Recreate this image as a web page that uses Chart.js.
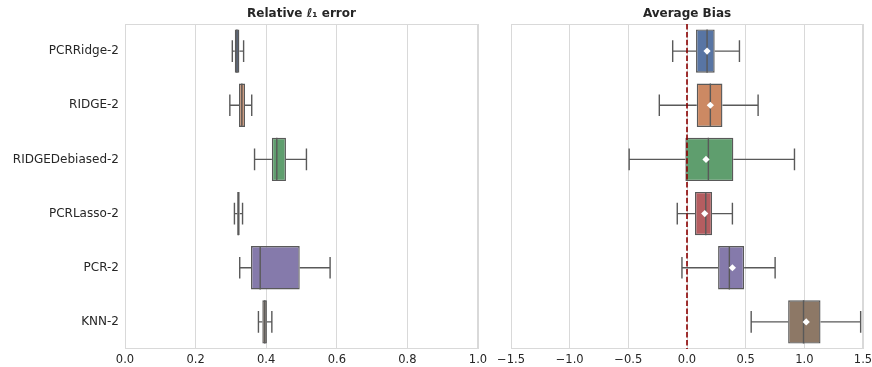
<!DOCTYPE html>
<html>
<head>
<meta charset="utf-8">
<script src="https://cdn.jsdelivr.net/npm/chart.js"></script>
<style>
  body { margin: 0; background: #fff; }
  #wrap { position: relative; width: 872px; height: 367px; }
  canvas { position: absolute; top: 0; }
</style>
</head>
<body>
<div id="wrap">
  <canvas id="errChart" width="490" height="367" style="left:0"></canvas>
  <canvas id="biasChart" width="382" height="367" style="left:490px"></canvas>
</div>
<script>
var models = ['PCRRidge-2', 'RIDGE-2', 'RIDGEDebiased-2', 'PCRLasso-2', 'PCR-2', 'KNN-2'];
var boxColors = ['#5875a4', '#cc8963', '#5f9e6e', '#b55d60', '#857aab', '#8d7866'];

// relative l1 error (left panel)
var errLow  = [0.304, 0.297, 0.367, 0.310, 0.325, 0.378];
var errQ1   = [0.311, 0.323, 0.416, 0.318, 0.357, 0.389];
var errMed  = [0.317, 0.331, 0.430, 0.321, 0.383, 0.396];
var errQ3   = [0.324, 0.340, 0.456, 0.325, 0.495, 0.402];
var errHigh = [0.336, 0.359, 0.514, 0.333, 0.581, 0.416];
var errTicks = [0, 0.2, 0.4, 0.6, 0.8, 1.0];

// average bias (right panel)
var biasLow  = [-0.122, -0.236, -0.493, -0.083, -0.043, 0.547];
var biasQ1   = [0.077, 0.083, -0.014, 0.068, 0.265, 0.862];
var biasMed  = [0.171, 0.199, 0.182, 0.160, 0.361, 0.993];
var biasQ3   = [0.236, 0.302, 0.395, 0.214, 0.487, 1.138];
var biasHigh = [0.447, 0.606, 0.916, 0.387, 0.751, 1.480];
var biasMean = [0.171, 0.199, 0.162, 0.151, 0.387, 1.016];
var biasTicks = [-1.5, -1.0, -0.5, 0.0, 0.5, 1.0, 1.5];

var FONT = 'DejaVu Sans';
var TEXT = '#262626';
var GRID = '#d9d9d9';
var LINE = '#595959';

// whiskers, medians, means, zero line, frame and panel title
var boxParts = {
  id: 'boxParts',
  beforeDatasetsDraw: function(chart) {
    var a = chart.chartArea, ctx = chart.ctx;
    ctx.save();
    ctx.strokeStyle = GRID;
    ctx.lineWidth = 1;
    ctx.strokeRect(a.left + 0.5, a.top + 0.5, a.right - a.left - 1, a.bottom - a.top - 1);
    ctx.restore();
  },
  afterDatasetsDraw: function(chart, args, o) {
    var ctx = chart.ctx, xs = chart.scales.x, ys = chart.scales.y, a = chart.chartArea;
    var band = ys.getPixelForValue(1) - ys.getPixelForValue(0);
    var half = band * 0.4, cap = band * 0.2;
    ctx.save();
    ctx.strokeStyle = LINE;
    ctx.lineWidth = 1.4;
    for (var i = 0; i < models.length; i++) {
      var y = ys.getPixelForValue(i);
      var lo = xs.getPixelForValue(o.low[i]), q1 = xs.getPixelForValue(o.q1[i]);
      var q3 = xs.getPixelForValue(o.q3[i]), hi = xs.getPixelForValue(o.high[i]);
      var md = xs.getPixelForValue(o.med[i]);
      ctx.beginPath();
      ctx.moveTo(lo, y); ctx.lineTo(q1, y);
      ctx.moveTo(q3, y); ctx.lineTo(hi, y);
      ctx.moveTo(lo, y - cap); ctx.lineTo(lo, y + cap);
      ctx.moveTo(hi, y - cap); ctx.lineTo(hi, y + cap);
      ctx.moveTo(md, y - half); ctx.lineTo(md, y + half);
      ctx.stroke();
    }
    if (o.zero) {
      var zx = xs.getPixelForValue(0);
      ctx.strokeStyle = '#8b0000';
      ctx.lineWidth = 1.6;
      ctx.setLineDash([5.5, 2.4]);
      ctx.beginPath();
      ctx.moveTo(zx, a.top); ctx.lineTo(zx, a.bottom);
      ctx.stroke();
      ctx.setLineDash([]);
    }
    if (o.mean) {
      ctx.fillStyle = '#ffffff';
      for (var j = 0; j < o.mean.length; j++) {
        var mx = xs.getPixelForValue(o.mean[j]), my = ys.getPixelForValue(j), r = 3.6;
        ctx.beginPath();
        ctx.moveTo(mx, my - r); ctx.lineTo(mx + r, my);
        ctx.lineTo(mx, my + r); ctx.lineTo(mx - r, my);
        ctx.closePath();
        ctx.fill();
      }
    }
    ctx.restore();
  },
  afterDraw: function(chart, args, o) {
    var a = chart.chartArea, ctx = chart.ctx;
    ctx.save();
    ctx.fillStyle = TEXT;
    ctx.font = 'bold 12px "' + FONT + '"';
    ctx.textAlign = 'center';
    ctx.textBaseline = 'middle';
    ctx.fillText(o.title, (a.left + a.right) / 2, 14);
    ctx.restore();
  }
};

function tickText(v) {
  return v.toFixed(1).replace('-', '\u2212');
}

function makeChart(id, parts, xMin, xMax, ticks, labelWidth, pad) {
  return new Chart(document.getElementById(id), {
    type: 'bar',
    data: {
      labels: models,
      datasets: [{
        data: models.map(function(m, i) { return [parts.q1[i], parts.q3[i]]; }),
        backgroundColor: boxColors,
        borderColor: LINE,
        borderWidth: 1.4,
        borderSkipped: false,
        categoryPercentage: 0.8,
        barPercentage: 1.0
      }]
    },
    options: {
      indexAxis: 'y',
      responsive: false,
      animation: false,
      layout: { padding: pad },
      plugins: {
        legend: { display: false },
        tooltip: { enabled: false },
        boxParts: parts
      },
      scales: {
        x: {
          min: xMin, max: xMax,
          afterBuildTicks: function(s) { s.ticks = ticks.map(function(v) { return { value: v }; }); },
          afterFit: function(s) { s.height = 18; s.paddingLeft = 0; s.paddingRight = 0; },
          grid: { color: GRID, lineWidth: 1, drawTicks: false },
          border: { display: false },
          ticks: {
            padding: 4,
            color: TEXT,
            font: { family: FONT, size: 11.5 },
            callback: function(v) { return tickText(v); }
          }
        },
        y: {
          display: labelWidth > 0,
          afterFit: function(s) { s.width = labelWidth; },
          grid: { display: false, drawTicks: false },
          border: { display: false },
          ticks: {
            padding: 6,
            color: TEXT,
            font: { family: FONT, size: 12 }
          }
        }
      }
    },
    plugins: [boxParts]
  });
}

makeChart('errChart', {
  low: errLow, q1: errQ1, med: errMed, q3: errQ3, high: errHigh,
  title: 'Relative \u2113\u2081 error'
}, 0, 1, errTicks, 125, { top: 24, right: 12, left: 0, bottom: 0 });

makeChart('biasChart', {
  low: biasLow, q1: biasQ1, med: biasMed, q3: biasQ3, high: biasHigh,
  mean: biasMean, zero: true,
  title: 'Average Bias'
}, -1.5, 1.5, biasTicks, 0, { top: 24, right: 9, left: 21, bottom: 0 });
</script>
</body>
</html>
